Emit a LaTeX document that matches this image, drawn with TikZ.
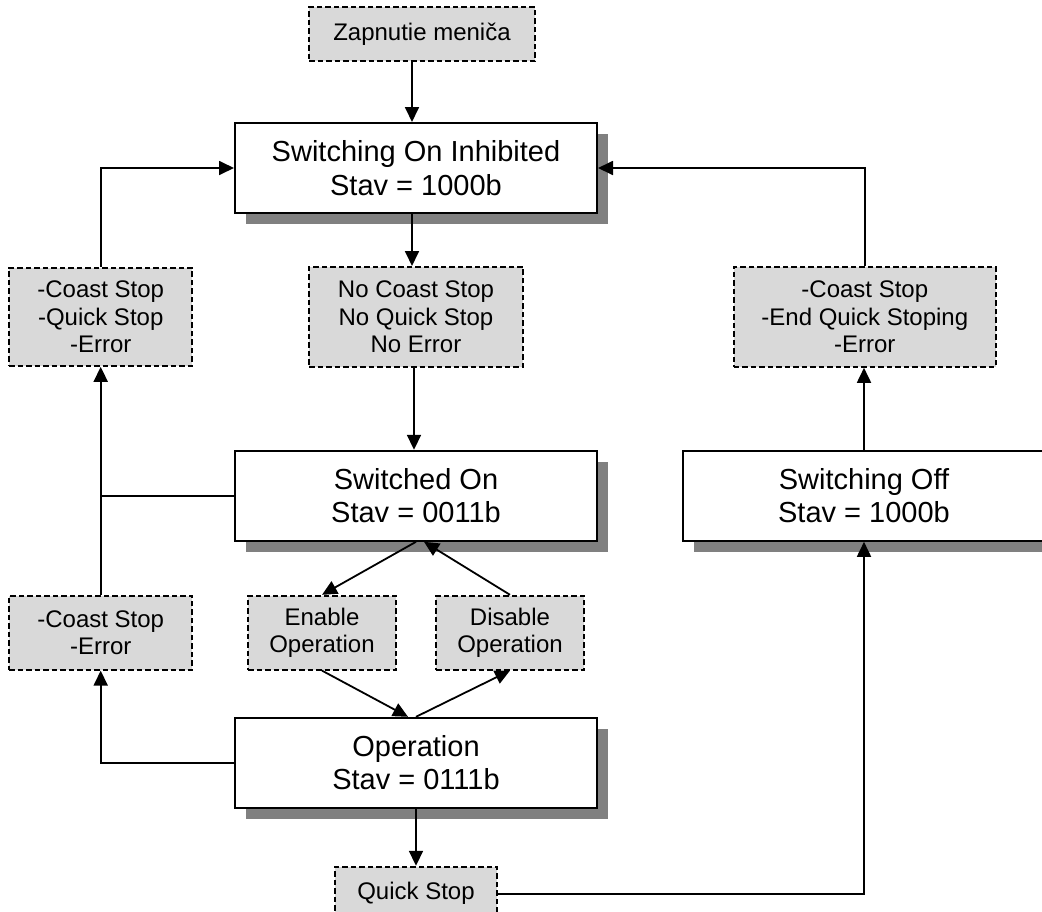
\documentclass[tikz,border=0pt]{standalone}
\usepackage{fontspec}
\setmainfont{Liberation Sans}
\usepackage{tikz}
\usetikzlibrary{positioning, arrows.meta, shadows}
\definecolor{condgray}{RGB}{217,217,217}
\definecolor{shadegray}{RGB}{128,128,128}
\tikzset{
      state box/.style={
		draw, line width=2pt, fill=white, align=center, inner sep=0pt,
		minimum width=362pt,
		minimum height=90pt,
		font={\fontsize{29}{33.4}\selectfont},
		drop shadow={shadow xshift=11pt, shadow yshift=-11pt, fill=shadegray, opacity=1},
	  },
      cond box/.style 2 args={
		draw, line width=1.8pt, dash pattern=on 5.5pt off 3pt, fill=condgray,
		align=center, inner sep=0pt,
		minimum width=#1,
		minimum height=#2,
		font={\fontsize{24}{27.6}\selectfont},
	  },
  		flow/.style={
    	line width=1.8pt, -{Triangle[length=15pt, width=14pt]},
      }
  	}

\begin{document}
\begin{tikzpicture}[x=1pt, y=1pt]
    \useasboundingbox (0,0) rectangle (1042,-911);
    \clip (0,0) rectangle (1042,-911);
    % middle column
    \node [state box] (inh) at (416,-168) {Switching On Inhibited\\Stav = 1000b};
    \node [cond box={226pt}{54pt}, above=60pt of inh, xshift=6pt] (zap) {Zapnutie meniča};
    \node [cond box={214pt}{100pt}, below=52pt of inh] (noerr) {No Coast Stop\\No Quick Stop\\No Error};
    \node [state box, below=82pt of noerr] (son) {Switched On\\Stav = 0011b};
    \node [cond box={148pt}{74pt}, below=53pt of son, xshift=-94pt] (en) {Enable\\Operation};
    \node [cond box={148pt}{74pt}, below=53pt of son, xshift=94pt] (dis) {Disable\\Operation};
    \node [state box, below=175pt of son] (oper) {Operation\\Stav = 0111b};
    \node [cond box={162pt}{54pt}, below=57pt of oper] (qs) {Quick Stop};
    % side columns
    \node [cond box={183pt}{98pt}, left=115pt of noerr] (err1) {-Coast Stop\\-Quick Stop\\-Error};
    \node [cond box={183pt}{74pt}, left=54pt of en] (err2) {-Coast Stop\\-Error};
    \node [cond box={262pt}{100pt}, right=209pt of noerr] (err3) {-Coast Stop\\-End Quick Stoping\\-Error};
    \node [state box, right=84pt of son] (soff) {Switching Off\\Stav = 1000b};

    \draw [flow] ([xshift=-4pt]inh.north |- zap.south) -- ([xshift=-4pt]inh.north);
    \draw [flow] ([xshift=-4pt]inh.south) -- ([xshift=-4pt]noerr.north);
    \draw [flow] ([xshift=-2pt]noerr.south) -- ([xshift=-2pt]son.north);
    \draw [flow] (son.south) -- (en.north);
    \draw [flow] (dis.north) -- ([xshift=8pt]son.south);
    \draw [flow] (en.south) -- ([xshift=-8pt]oper.north);
    \draw [flow] (oper.north) -- (dis.south);
    \draw [flow] (oper.south) -- (qs.north);
    \draw [flow] (qs.east) -| (soff.south);
    \draw [flow] (soff.north) -- (soff.north |- err3.south);
    \draw [flow] (err3.north) |- (inh.east);
    \draw [flow] (err1.north) |- (inh.west);
    \draw [flow] (err2.north) -- (err1.south);
    \draw [line width=1.8pt] (son.west) -- (son.west -| err1.south);
    \draw [flow] (oper.west) -| (err2.south);
  \end{tikzpicture}
\end{document}
